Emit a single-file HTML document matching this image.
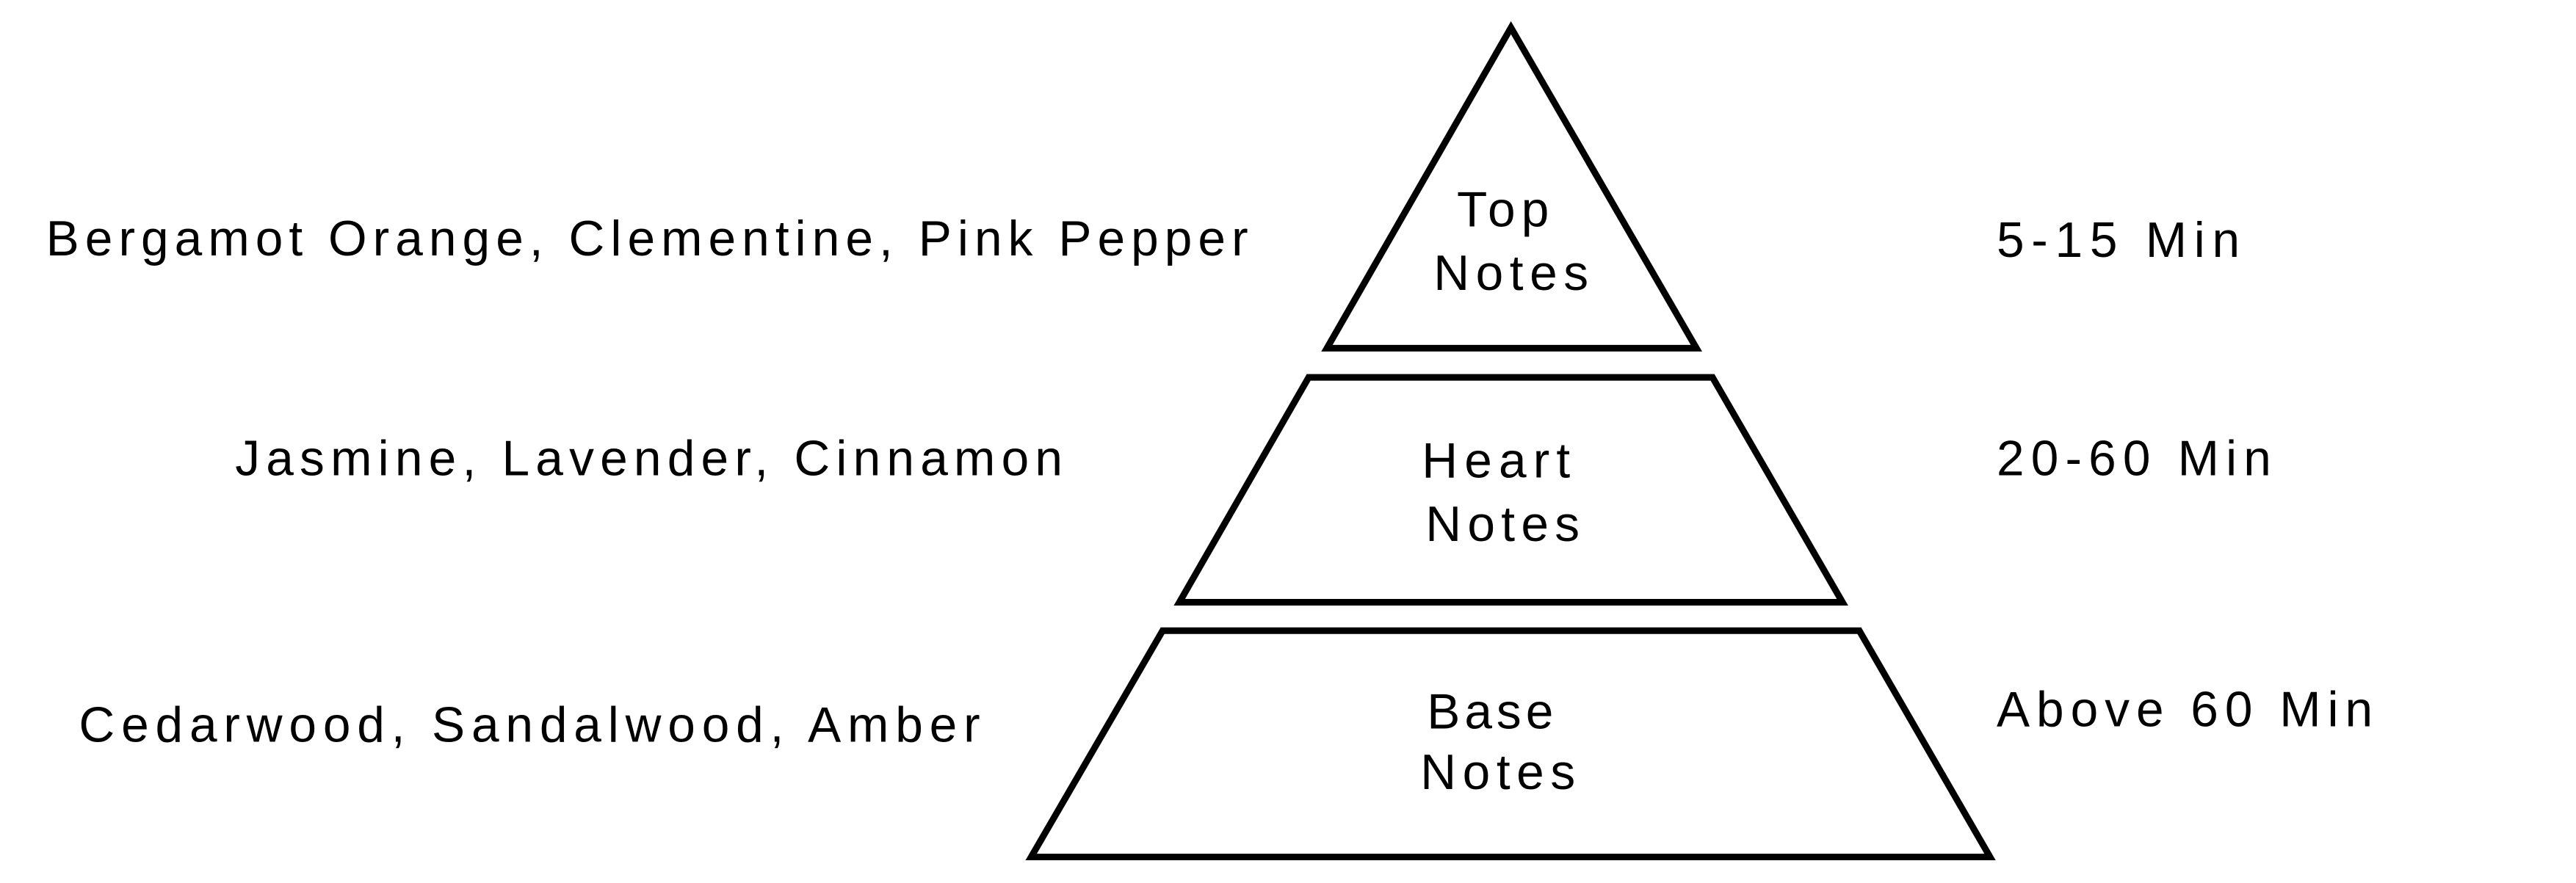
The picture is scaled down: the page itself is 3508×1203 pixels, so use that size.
<!DOCTYPE html>
<html><head><meta charset="utf-8"><style>html,body{margin:0;padding:0;background:#fff}svg{display:block}</style></head>
<body>
<svg width="3508" height="1203" viewBox="0 0 3508 1203" xmlns="http://www.w3.org/2000/svg">
<rect width="3508" height="1203" fill="#fff"/>
<g transform="scale(0.9945)">
<g fill="none" stroke="#000" stroke-width="9" stroke-linejoin="miter">
<polygon points="2069,38 2323,477 1817,477"/>
<polygon points="1792,517 2345,517 2523,825 1615,825"/>
<polygon points="1592,864 2546,864 2725,1174 1412,1174"/>
</g>
<g font-family="Liberation Sans, sans-serif" font-size="68" fill="#000">
<text x="63" y="350" textLength="1646" lengthAdjust="spacing">Bergamot Orange, Clementine, Pink Pepper</text>
<text x="322" y="651" textLength="1133" lengthAdjust="spacing">Jasmine, Lavender, Cinnamon</text>
<text x="108" y="1016" textLength="1234" lengthAdjust="spacing">Cedarwood, Sandalwood, Amber</text>
<text x="2734" y="352" textLength="333" lengthAdjust="spacing">5-15 Min</text>
<text x="2734" y="651" textLength="376" lengthAdjust="spacing">20-60 Min</text>
<text x="2734" y="995" textLength="515" lengthAdjust="spacing">Above 60 Min</text>
<text x="1995" y="310" textLength="126" lengthAdjust="spacing">Top</text>
<text x="1963" y="397" textLength="212" lengthAdjust="spacing">Notes</text>
<text x="1947" y="654" textLength="203" lengthAdjust="spacing">Heart</text>
<text x="1952" y="741" textLength="211" lengthAdjust="spacing">Notes</text>
<text x="1954" y="998" textLength="173" lengthAdjust="spacing">Base</text>
<text x="1945" y="1081" textLength="212" lengthAdjust="spacing">Notes</text>
</g>
</g>
</svg>
</body></html>
